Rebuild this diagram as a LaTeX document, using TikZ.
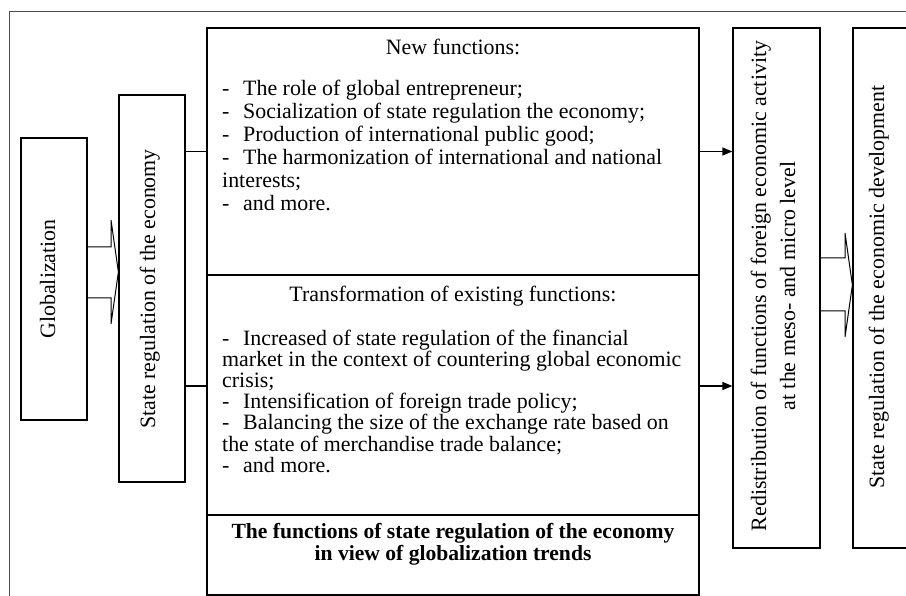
\documentclass[tikz,border=0pt]{standalone}
\usepackage{fontspec}
\setmainfont{Liberation Serif}
\usetikzlibrary{arrows.meta}
\usepackage{xcolor}
\newcommand{\boxline}{1.2pt}
\newcommand{\framecolor}{black!70!white}
\newcommand{\dashgap}{21pt}
\newcommand{\dashline}[1]{\makebox[\dashgap][l]{-}#1}

\tikzset{
    panel/.style={draw, line width=\boxline, inner sep=0pt},
    vtext/.style={rotate=90, anchor=base, inner sep=0pt},
    htext/.style={anchor=base west, inner sep=0pt},
    ctext/.style={anchor=base, inner sep=0pt},
    link/.style={line width=\boxline},
    blockarrow/.style={line width=1pt}
}

\begin{document}
\begin{tikzpicture}[x=1pt, y=-1pt, font=\fontsize{21.9pt}{22pt}\selectfont, >={Triangle[length=10pt, width=8pt]}]
        \useasboundingbox (0,0) rectangle (906,596);

        % outer frame
        \draw[\framecolor, line width=0.9pt] (9,604) -- (9,11) -- (914,11);

        % boxes
        \node[panel, minimum width=66pt, minimum height=282pt] (glob) at (54,279) {};
        \node[panel, minimum width=66pt, minimum height=387pt] (statereg) at (152,288.5) {};
        \node[panel, minimum width=492pt, minimum height=247pt] (newfun) at (453,151.5) {};
        \node[panel, minimum width=492pt, minimum height=240pt] (transfun) at (453,395) {};
        \node[panel, minimum width=492pt, minimum height=80pt] (trends) at (453,555) {};
        \node[panel, minimum width=87pt, minimum height=520pt] (redist) at (776.5,288) {};
        \node[panel, minimum width=57pt, minimum height=520pt] (devel) at (881.5,288) {};

        % vertical texts
        \node[vtext] (globtxt) at (55,279) {Globalization};
        \node[vtext] (statetxt) at (155,289) {State regulation of the economy};
        \node[vtext] (redistone) at (766,286) {Redistribution of functions of foreign economic activity};
        \node[vtext] (redisttwo) at (795,286) {at the meso- and micro level};
        \node[vtext] (develtxt) at (884,287) {State regulation of the economic development};

        % new functions
        \node[ctext] (newtitle) at (453,55) {New functions:};
        \foreach \txt [count=\i] in {
            \dashline{The role of global entrepreneur;},
            \dashline{Socialization of state regulation the economy;},
            \dashline{Production of international public good;},
            \dashline{The harmonization of international and national},
            interests;,
            \dashline{and more.}}
            \node[htext] (newline\i) at (222,{96+23*(\i-1)}) {\txt};

        % transformed functions
        \node[ctext] (transtitle) at (453,302) {Transformation of existing functions:};
        \foreach \txt [count=\i] in {
            \dashline{Increased of state regulation of the financial},
            market in the context of countering global economic,
            crisis;,
            \dashline{Intensification of foreign trade policy;},
            \dashline{Balancing the size of the exchange rate based on},
            the state of merchandise trade balance;,
            \dashline{and more.}}
            \node[htext] (transline\i) at (222,{345+21.2*(\i-1)}) {\txt};

        % caption of the functions
        \node[ctext, font=\fontsize{21.6pt}{22pt}\selectfont\bfseries] (trendsone) at (453,538) {The functions of state regulation of the economy};
        \node[ctext, font=\fontsize{21.6pt}{22pt}\selectfont\bfseries] (trendstwo) at (453,560) {in view of globalization trends};

        % block arrows
        \draw[blockarrow] (glob.east |- 0,247) -| (111,220) -- (statereg.west |- 0,272) -- (111,324) |- (glob.east |- 0,298);
        \draw[blockarrow] (redist.east |- 0,258) -| (845,233) -- (devel.west |- 0,285) -- (845,337) |- (redist.east |- 0,311);

        % links
        \draw[link] (statereg.east |- newfun.west) -- (newfun.west);
        \draw[link] (statereg.east |- 0,386) -- (transfun.west |- 0,386);
        \draw[link, ->] (newfun.east) -- (redist.west |- newfun.east);
        \draw[link, ->] (transfun.east |- 0,386) -- (redist.west |- 0,386);
    \end{tikzpicture}
\end{document}
